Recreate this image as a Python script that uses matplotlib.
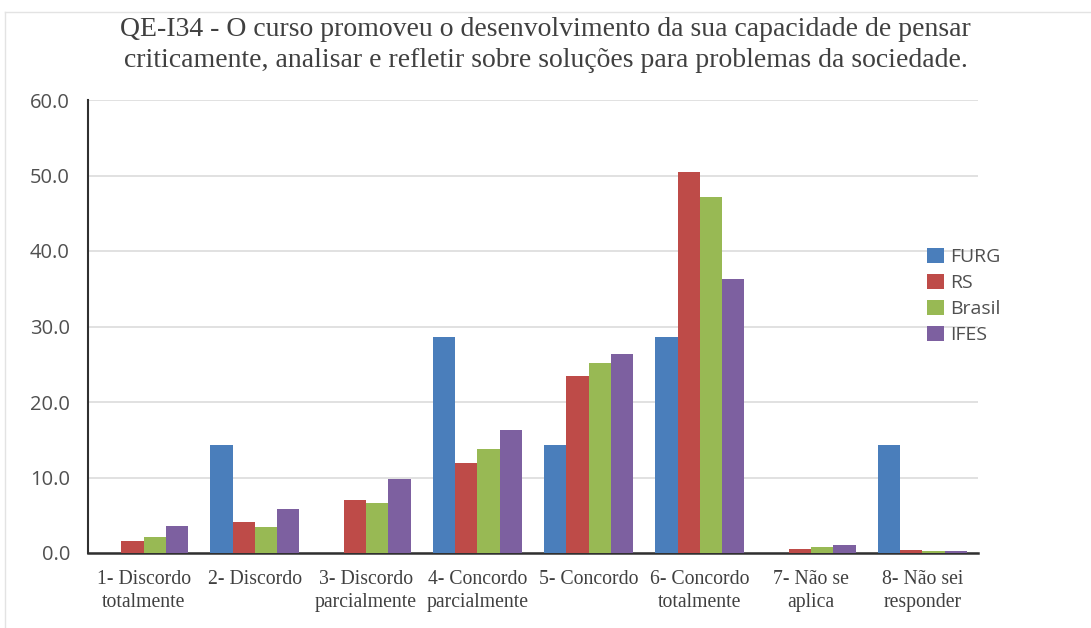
import numpy as np
import matplotlib.pyplot as plt
from matplotlib.lines import Line2D

categorias = ["1- Discordo\ntotalmente", "2- Discordo", "3- Discordo\nparcialmente",
              "4- Concordo\nparcialmente", "5- Concordo", "6- Concordo\ntotalmente",
              "7- Não se\naplica", "8- Não sei\nresponder"]
series = ["FURG", "RS", "Brasil", "IFES"]
furg = [0.0, 14.3, 0.0, 28.6, 14.3, 28.6, 0.0, 14.3]
rs = [1.6, 4.1, 7.0, 11.9, 23.4, 50.4, 0.5, 0.4]
brasil = [2.1, 3.4, 6.6, 13.8, 25.2, 47.1, 0.8, 0.3]
ifes = [3.6, 5.8, 9.8, 16.3, 26.4, 36.3, 1.0, 0.3]
cores = ["#4A7EBB", "#BE4B48", "#98B954", "#7D60A0"]
titulo = ("QE-I34 - O curso promoveu o desenvolvimento da sua capacidade de pensar\n"
          "criticamente, analisar e refletir sobre soluções para problemas da sociedade.")

fig = plt.figure(figsize=(10.91, 6.28), dpi=100)
ax = fig.add_axes([88/1091, 1 - 553/628, 890/1091, 453/628])

x = np.arange(len(categorias))
w = 0.2
for i, (nome, vals) in enumerate(zip(series, [furg, rs, brasil, ifes])):
    ax.bar(x + (i - 1.5) * w, vals, w, color=cores[i], label=nome, zorder=3)

ax.set_xlim(-0.5, len(categorias) - 0.5)
ax.set_ylim(0, 60)
ax.set_yticks(np.arange(0, 61, 10))
ax.set_yticklabels([f"{v:.1f}" for v in np.arange(0, 61, 10)],
                   family="Open Sans", fontsize=14.5, color="#505050")
ax.set_xticks(x)
ax.set_xticklabels(categorias, family="Liberation Serif", fontsize=14.2,
                   color="#404040", linespacing=1.3)
ax.tick_params(axis="x", length=0, pad=12)
ax.tick_params(axis="y", length=0, pad=13)
ax.grid(axis="y", color="#DCDCDC", linewidth=1.2, zorder=0)
for s in ["top", "right"]:
    ax.spines[s].set_visible(False)
ax.spines["left"].set_color("#303030")
ax.spines["bottom"].set_color("#303030")
ax.spines["left"].set_linewidth(1.5)
ax.spines["bottom"].set_linewidth(1.8)

leg = ax.legend(loc="center left", bbox_to_anchor=(927/1091, 1 - 296/628),
                bbox_transform=fig.transFigure, frameon=False,
                prop={"family": "Open Sans", "size": 14}, handlelength=0.85,
                handleheight=0.85, handletextpad=0.35, labelspacing=0.38,
                borderpad=0, borderaxespad=0)
for t in leg.get_texts():
    t.set_color("#505050")

fig.text(0.5, 1 - 45/628, titulo, ha="center", va="center",
         family="Liberation Serif", fontsize=20, color="#404040", linespacing=1.3)

# moldura clara no topo e na esquerda
fig.add_artist(Line2D([5/1091, 1], [1 - 12/628, 1 - 12/628], transform=fig.transFigure,
                      color="#E3E3E3", linewidth=1))
fig.add_artist(Line2D([5/1091, 5/1091], [0, 1 - 12/628], transform=fig.transFigure,
                      color="#E3E3E3", linewidth=1))

fig.savefig("out.png", dpi=100)
